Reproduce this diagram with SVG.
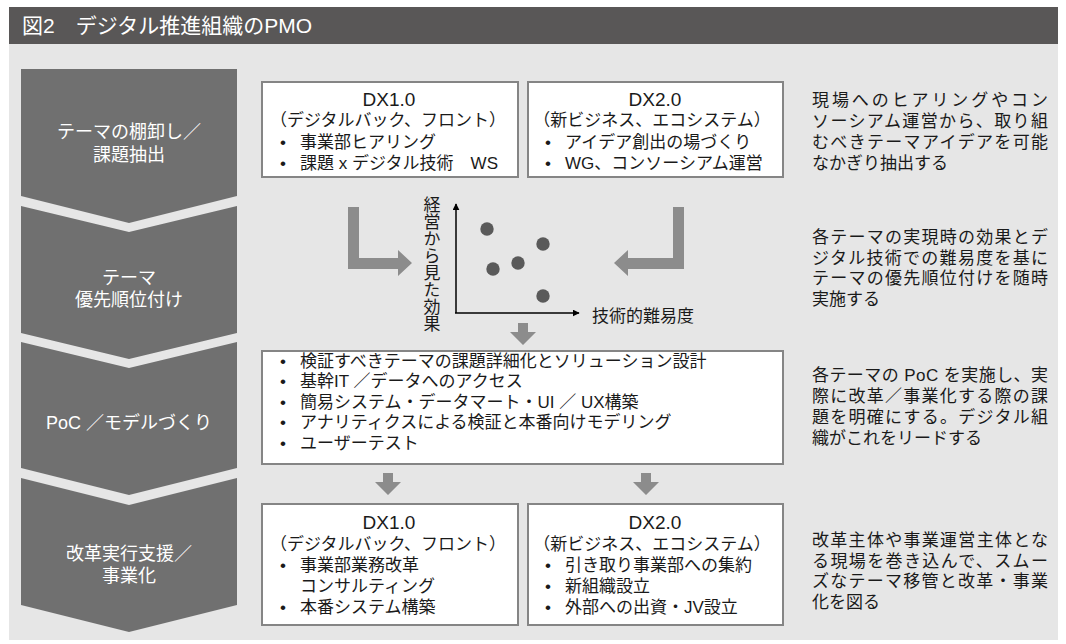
<svg xmlns="http://www.w3.org/2000/svg" width="1066" height="644" viewBox="0 0 1066 644">
<style>
text{font-family:"Liberation Sans","Noto Sans CJK JP",sans-serif;fill:#1a1a1a;font-size:17px}
.hd{fill:#fff;font-size:21px}
.lbl{fill:#fff;font-size:18px;text-anchor:middle}
.c{text-anchor:middle}
.dx{text-anchor:middle;font-size:19px}
.box{fill:#fff;stroke:#858585;stroke-width:2}
.chev{fill:#707070}
.ga{fill:#8c8c8c}
.dot{fill:#5a5a5a}
.ax{stroke:#000;stroke-width:1.5;fill:none}
</style>
<defs>
<marker id="ah" viewBox="0 0 10 10" refX="9" refY="5" markerWidth="7" markerHeight="7" markerUnits="userSpaceOnUse" orient="auto"><path d="M0,0 L10,5 L0,10 Z" fill="#000"/></marker>
</defs>
<rect x="0" y="0" width="1066" height="644" fill="#fff"/>
<rect x="9" y="44" width="1049" height="596" fill="#e6e6e6"/>
<g id="header">
<rect x="9" y="7" width="1049" height="37" fill="#595757"/>
<text class="hd" x="22" y="33">図2　デジタル推進組織のPMO</text>
</g>
<g id="stage1"><path class="chev" d="M21,69 H237 V196 L129,223 L21,196 Z"/><text class="lbl" x="129" y="138">テーマの棚卸し／</text><text class="lbl" x="129" y="161">課題抽出</text></g>
<g id="stage2"><path class="chev" d="M21,206 L129,232 L237,206 V333 L129,359 L21,333 Z"/><text class="lbl" x="129" y="284">テーマ</text><text class="lbl" x="129" y="306">優先順位付け</text></g>
<g id="stage3"><path class="chev" d="M21,342 L129,368 L237,342 V468 L129,495 L21,468 Z"/><text class="lbl" x="129" y="429">PoC ／モデルづくり</text></g>
<g id="stage4"><path class="chev" d="M21,478 L129,505 L237,478 V605 L129,632 L21,605 Z"/><text class="lbl" x="129" y="560">改革実行支援／</text><text class="lbl" x="129" y="582">事業化</text></g>
<g id="box-dx1-top"><rect class="box" x="262" y="82" width="256" height="95"/>
<text class="dx" x="389" y="106">DX1.0</text><text class="c" x="388" y="126">（デジタルバック、フロント）</text>
<text x="280" y="148">•</text><text x="300" y="148">事業部ヒアリング</text>
<text x="280" y="169">•</text><text x="300" y="169">課題 x デジタル技術　WS</text></g>
<g id="box-dx2-top"><rect class="box" x="528" y="82" width="255" height="95"/>
<text class="dx" x="655" y="106">DX2.0</text><text class="c" x="652" y="126">（新ビジネス、エコシステム）</text>
<text x="545" y="148">•</text><text x="565" y="148">アイデア創出の場づくり</text>
<text x="545" y="169">•</text><text x="565" y="169">WG、コンソーシアム運営</text></g>
<g id="chart">
<text x="430" y="196" font-size="16" style="writing-mode:vertical-rl">経営から見た効果</text>
<line class="ax" x1="456" y1="313" x2="456" y2="204" marker-end="url(#ah)"/>
<line class="ax" x1="455" y1="313" x2="579" y2="313" marker-end="url(#ah)"/>
<text x="592" y="322" font-size="16.5">技術的難易度</text>
<circle class="dot" cx="487" cy="229" r="6.7"/><circle class="dot" cx="543" cy="244" r="6.7"/><circle class="dot" cx="518" cy="263" r="6.7"/><circle class="dot" cx="493" cy="269" r="6.7"/><circle class="dot" cx="543" cy="296" r="6.7"/>
</g>
<g id="box-poc"><rect class="box" x="262" y="351" width="521" height="113"/>
<text x="280" y="367">•</text><text x="300" y="367">検証すべきテーマの課題詳細化とソリューション設計</text>
<text x="280" y="387">•</text><text x="300" y="387">基幹IT ／データへのアクセス</text>
<text x="280" y="408">•</text><text x="300" y="408">簡易システム・データマート・UI ／ UX構築</text>
<text x="280" y="428">•</text><text x="300" y="428">アナリティクスによる検証と本番向けモデリング</text>
<text x="280" y="449">•</text><text x="300" y="449">ユーザーテスト</text></g>
<g id="box-dx1-bottom"><rect class="box" x="262" y="504" width="256" height="121"/>
<text class="dx" x="389" y="529">DX1.0</text><text class="c" x="388" y="550">（デジタルバック、フロント）</text>
<text x="280" y="571">•</text><text x="300" y="571">事業部業務改革</text>
<text x="300" y="592">コンサルティング</text>
<text x="280" y="613">•</text><text x="300" y="613">本番システム構築</text></g>
<g id="box-dx2-bottom"><rect class="box" x="528" y="504" width="255" height="121"/>
<text class="dx" x="655" y="529">DX2.0</text><text class="c" x="652" y="550">（新ビジネス、エコシステム）</text>
<text x="545" y="571">•</text><text x="565" y="571">引き取り事業部への集約</text>
<text x="545" y="592">•</text><text x="565" y="592">新組織設立</text>
<text x="545" y="613">•</text><text x="565" y="613">外部への出資・JV設立</text></g>
<g id="connectors">
<path class="ga" d="M348,207 H359 V258 H398 V250 L412,263 L398,276 V269 H348 Z"/>
<path class="ga" d="M684,207 H673 V258 H628 V250 L614,263 L628,276 V269 H684 Z"/>
<path class="ga" d="M518,323 V332 H510 L523,345 L536,332 H528 V323 Z"/>
<path class="ga" d="M383,473 V482 H375 L388,495 L401,482 H393 V473 Z"/>
<path class="ga" d="M641,473 V482 H633 L646,495 L659,482 H651 V473 Z"/>
</g>
<g id="desc1">
<text x="812" y="106" textLength="236" lengthAdjust="spacing">現場へのヒアリングやコン</text>
<text x="812" y="127" textLength="236" lengthAdjust="spacing">ソーシアム運営から、取り組</text>
<text x="812" y="148" textLength="236" lengthAdjust="spacing">むべきテーマアイデアを可能</text>
<text x="812" y="169">なかぎり抽出する</text></g>
<g id="desc2">
<text x="812" y="243" textLength="236" lengthAdjust="spacing">各テーマの実現時の効果とデ</text>
<text x="812" y="264" textLength="236" lengthAdjust="spacing">ジタル技術での難易度を基に</text>
<text x="812" y="284" textLength="236" lengthAdjust="spacing">テーマの優先順位付けを随時</text>
<text x="812" y="305">実施する</text></g>
<g id="desc3">
<text x="812" y="381" textLength="236" lengthAdjust="spacing">各テーマの PoC を実施し、実</text>
<text x="812" y="402" textLength="236" lengthAdjust="spacing">際に改革／事業化する際の課</text>
<text x="812" y="423" textLength="236" lengthAdjust="spacing">題を明確にする。デジタル組</text>
<text x="812" y="444">織がこれをリードする</text></g>
<g id="desc4">
<text x="812" y="546" textLength="236" lengthAdjust="spacing">改革主体や事業運営主体とな</text>
<text x="812" y="567" textLength="236" lengthAdjust="spacing">る現場を巻き込んで、スムー</text>
<text x="812" y="587" textLength="236" lengthAdjust="spacing">ズなテーマ移管と改革・事業</text>
<text x="812" y="608">化を図る</text></g>
</svg>
